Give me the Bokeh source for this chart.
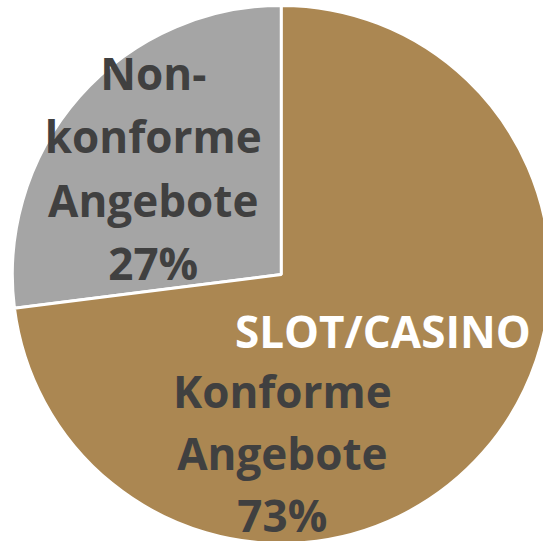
import math
from bokeh.plotting import figure
from bokeh.models import Range1d, ColumnDataSource
from bokeh.core.properties import value
from bokeh.embed import file_html
from bokeh.resources import INLINE

# ---- data ----
category = "SLOT/CASINO"
segments = ["Non-konforme Angebote", "Konforme Angebote"]
label_lines = [["Non-", "konforme", "Angebote"], ["Konforme", "Angebote"]]
shares = [27, 73]
colors = ["#A5A5A5", "#AB8752"]

# the whole 551 x 549 chart area is shown inside a 543 x 541 figure
W, H = 551, 549
p = figure(width=W - 8, height=H - 8, output_backend="svg", toolbar_location=None,
           x_range=Range1d(0, W), y_range=Range1d(0, H),
           min_border=0, outline_line_color=None)
p.axis.visible = False
p.grid.visible = False
p.background_fill_color = "white"
p.border_fill_color = "white"

cx, cy, r = 285, H - 278, 273
total = sum(shares)
starts, ends = [], []
a = math.pi / 2
for s in shares:
    starts.append(a)
    a += 2 * math.pi * s / total
    ends.append(a)

src = ColumnDataSource(dict(start=starts, end=ends, color=colors, seg=segments))
p.wedge(x=cx, y=cy, radius=r, start_angle="start", end_angle="end",
        fill_color="color", line_color="white", line_width=3, source=src)

font = value("Open Sans")
fs = "44px"

# gray label (27%)
gx, gy_top, glh = 155, H - 74, 64
lines = label_lines[0] + [f"{shares[0]}%"]
p.text(x=[gx] * len(lines), y=[gy_top - i * glh for i in range(len(lines))], text=lines,
       text_font=font, text_font_size=fs, text_font_style="bold",
       text_color="#404040", text_align="center", text_baseline="alphabetic")

# gold label (73%)
p.text(x=[388], y=[H - 335], text=[category], text_font=font, text_font_size=fs,
       text_font_style="bold", text_color="white", text_align="center",
       text_baseline="alphabetic")
lines = label_lines[1] + [f"{shares[1]}%"]
kx, ky_top, klh = 286, H - 396, 63
p.text(x=[kx] * len(lines), y=[ky_top - i * klh for i in range(len(lines))], text=lines,
       text_font=font, text_font_size=fs, text_font_style="bold",
       text_color="#404040", text_align="center", text_baseline="alphabetic")

open("out.html", "w").write(file_html(p, INLINE))
